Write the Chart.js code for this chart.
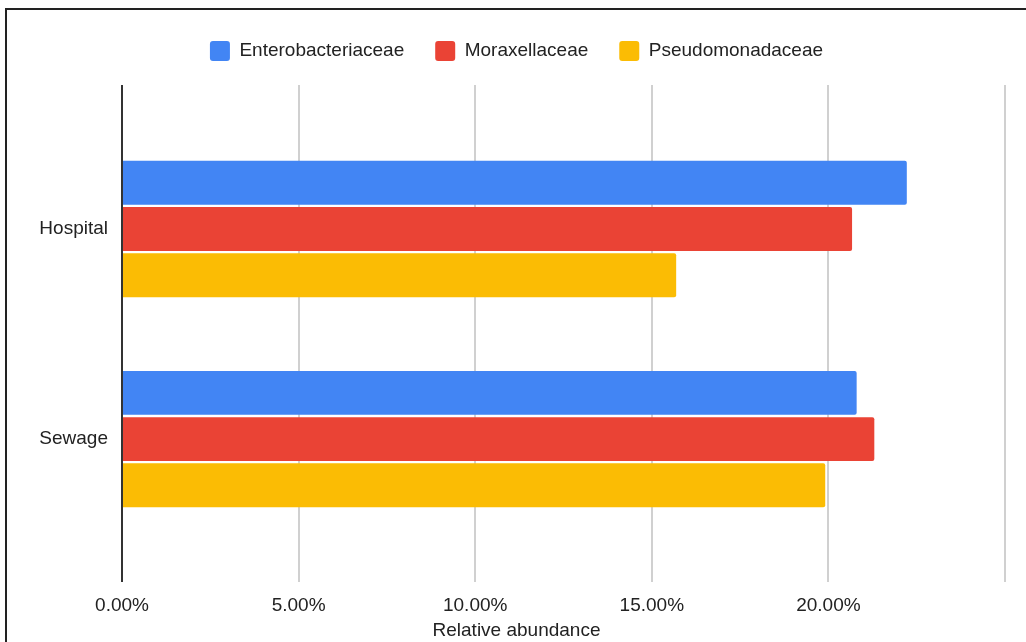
<!DOCTYPE html>
<html>
<head>
<meta charset="utf-8">
<script src="https://cdn.jsdelivr.net/npm/chart.js@4.4.1/dist/chart.umd.min.js"></script>
<style>
  html, body { margin:0; padding:0; background:#fff; overflow:hidden; }
  #frame { position:absolute; left:5px; top:8px; width:2000px; height:2000px; border-left:2px solid #222; border-top:2px solid #222; }
  #wrap { position:absolute; left:0; top:0; width:1026px; height:642px; }
</style>
</head>
<body>
<div id="frame"></div>
<div id="wrap"><canvas id="chart" width="1026" height="642"></canvas></div>
<script>
const categories = ['Hospital', 'Sewage'];
const seriesNames = ['Enterobacteriaceae', 'Moraxellaceae', 'Pseudomonadaceae'];
const enterobacteriaceae = [22.22, 20.80];
const moraxellaceae = [20.67, 21.30];
const pseudomonadaceae = [15.69, 19.91];
const seriesColors = ['#4285F4', '#EA4335', '#FBBC04'];
const xTicks = [0, 5, 10, 15, 20, 25];

const FONT = '"Liberation Sans", Arial, sans-serif';
const TEXT = '#222';

const seriesValues = [enterobacteriaceae, moraxellaceae, pseudomonadaceae];

// legend box height is fixed so the plot starts where the reference does
const legendHeight = {
    id: 'legendHeight',
    beforeInit(chart) {
        const fit = chart.legend.fit;
        chart.legend.fit = function() {
            fit.bind(chart.legend)();
            this.height = 75;
        };
    }
};

new Chart(document.getElementById('chart'), {
    type: 'bar',
    data: {
        datasets: seriesNames.map((name, k) => ({
            label: name,
            data: seriesValues[k].map((v, i) => ({x: v, y: i})),
            backgroundColor: seriesColors[k],
            borderWidth: 0,
            borderRadius: 2,
            categoryPercentage: 0.66,
            barPercentage: 0.95
        }))
    },
    options: {
        indexAxis: 'y',
        responsive: false,
        animation: false,
        layout: {padding: {top: 10, right: 21, bottom: 0, left: 28}},
        plugins: {
            tooltip: {enabled: false},
            legend: {
                position: 'top',
                labels: {
                    color: TEXT,
                    font: {family: FONT, size: 19},
                    boxWidth: 20,
                    boxHeight: 20,
                    useBorderRadius: true,
                    borderRadius: 3,
                    padding: 31
                }
            },
            title: {
                display: true,
                position: 'bottom',
                text: 'Relative abundance',
                color: TEXT,
                font: {family: FONT, size: 19, weight: 'normal'},
                padding: {top: 0, bottom: 0}
            }
        },
        scales: {
            x: {
                type: 'linear',
                min: 0,
                max: 25,
                afterBuildTicks: axis => { axis.ticks = xTicks.map(v => ({value: v})); },
                afterFit: axis => { axis.height = 37.2; },
                border: {display: false},
                grid: {
                    drawTicks: false,
                    color: ctx => ctx.tick && ctx.tick.value === 0 ? '#333' : '#d0d0d0',
                    lineWidth: 2
                },
                ticks: {
                    color: TEXT,
                    font: {family: FONT, size: 19},
                    padding: 12,
                    maxRotation: 0,
                    callback: v => v === 25 ? '' : v.toFixed(2) + '%'
                }
            },
            y: {
                type: 'linear',
                reverse: true,
                offset: false,
                min: -0.685,
                max: 1.68,
                afterBuildTicks: axis => { axis.ticks = categories.map((c, i) => ({value: i})); },
                afterFit: axis => { axis.width = 94; },
                border: {display: false},
                grid: {display: false, drawTicks: false, offset: false},
                ticks: {
                    color: TEXT,
                    font: {family: FONT, size: 19},
                    padding: 14,
                    callback: v => categories[v]
                }
            }
        }
    },
    plugins: [legendHeight]
});
</script>
</body>
</html>
